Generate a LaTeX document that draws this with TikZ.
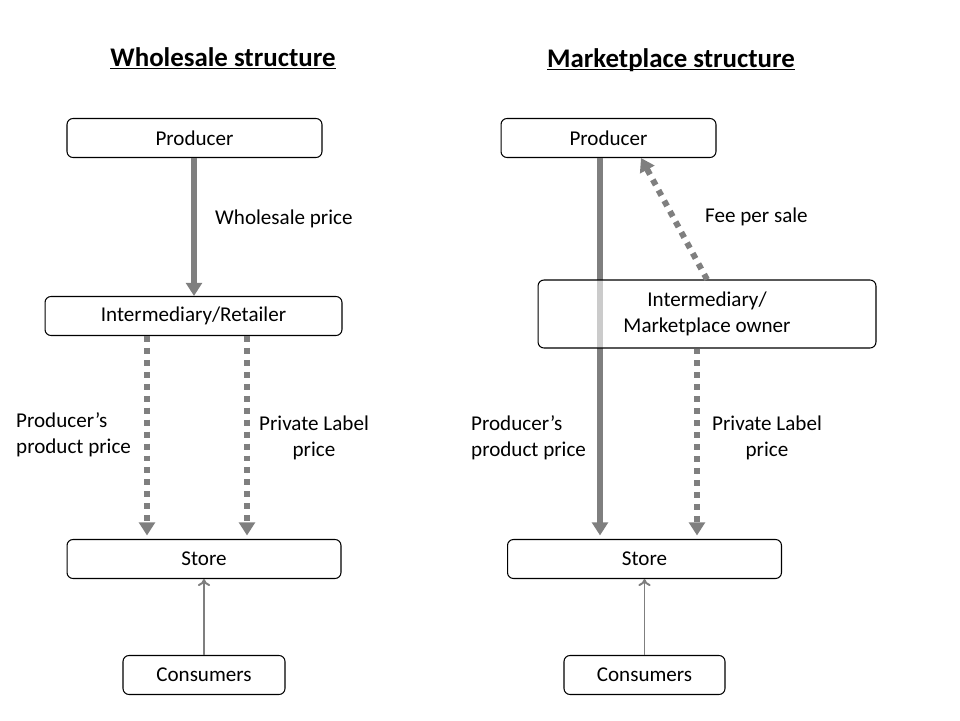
\documentclass[tikz,border=0pt]{standalone}
\usepackage{fontspec}
\setmainfont{Carlito}
\usetikzlibrary{arrows.meta, positioning}
\definecolor{flowgray}{HTML}{7F7F7F}

\begin{document}
\begin{tikzpicture}[
    x=0.02cm, y=-0.02cm,
    every node/.style={font=\fontsize{12}{14.8}\selectfont},
    title/.style={font=\fontsize{15.3}{18}\selectfont\bfseries},
    box/.style={draw, rounded corners=3.4pt, line width=0.6pt, inner sep=0pt, minimum height=0.78cm},
    pricetag/.style={align=center},
    paid/.style={flowgray, line width=3.4pt, -{Triangle[width=9pt,length=7.5pt]}},
    fee/.style={paid, dash pattern=on 3.4pt off 3.4pt},
    demand/.style={flowgray, line width=1.1pt, -{To[length=4pt,width=7pt]}}
]
\useasboundingbox (0,0) rectangle (960,720);

% Wholesale side
\node[title] (titleL) at (223,68) {\underline{\smash{Wholesale structure}}};
\node[box, minimum width=5.1cm] (prodL) at (194.5,138) {Producer};
\node[box, minimum width=5.94cm] (interL) at (193.5,316) {Intermediary/Retailer};
\node[box, minimum width=5.48cm] (storeL) at (204,559) {Store};
\node[box, minimum width=3.24cm] (consL) at (204,675) {Consumers};

\coordinate (colA) at (147,0);
\coordinate (colB) at (247,0);

\draw[paid] (prodL.south -| 194,0) -- (interL.north -| 194,0);
\draw[fee, shorten >=2pt] (interL.south -| colA) -- (storeL.north -| colA);
\draw[fee, shorten >=2pt] (interL.south -| colB) -- (storeL.north -| colB);
\draw[demand] (consL.north) -- (storeL.south);

\node[anchor=west] (wsprice) at (209,219) {Wholesale price};
\node[pricetag, anchor=west, align=left] (ppriceL) at (10,435) {Producer’s\\product price};
\node[pricetag] (plpriceL) at (314,438) {Private Label\\price};

% Marketplace side
\node[title] (titleR) at (671,69) {\underline{\smash{Marketplace structure}}};
\node[box, minimum width=4.3cm] (prodR) at (608.5,138) {Producer};
\node[box, minimum width=5.48cm] (storeR) at (644.5,559) {Store};
\node[box, minimum width=3.22cm] (consR) at (644.5,675) {Consumers};

\coordinate (colC) at (600,0);
\coordinate (colD) at (697,0);
\coordinate (feeEnd) at (641,158);

\draw[paid, shorten >=2pt] (prodR.south -| colC) -- (storeR.north -| colC);
\node[box, minimum width=6.76cm, minimum height=1.36cm, fill=white, fill opacity=0.6, text opacity=1, pricetag] (interR) at (707,314) {Intermediary/\\Marketplace owner};
\draw[fee] (interR.north) -- (feeEnd);
\draw[fee, shorten >=2pt] (interR.south -| colD) -- (storeR.north -| colD);
\draw[demand] (consR.north) -- (storeR.south);

\node[anchor=west] (feesale) at (699,217) {Fee per sale};
\node[pricetag, anchor=west, align=left] (ppriceR) at (465,438) {Producer’s\\product price};
\node[pricetag] (plpriceR) at (767,438) {Private Label\\price};

\end{tikzpicture}
\end{document}
